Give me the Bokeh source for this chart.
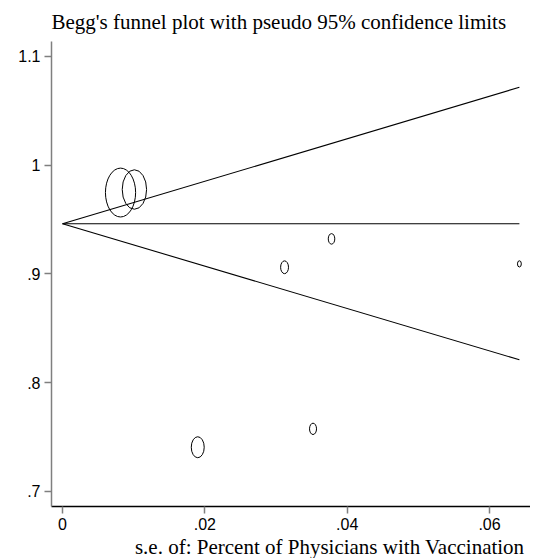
from bokeh.plotting import figure
from bokeh.models import Range1d, FixedTicker, Title
from bokeh.embed import file_html
from bokeh.resources import INLINE

# ---- data ----
se = [0.00815, 0.0101, 0.0378, 0.0312, 0.0642, 0.0352, 0.0190]
effect = [0.9747, 0.9775, 0.9321, 0.906, 0.9091, 0.7574, 0.7405]

pooled = 0.946
se_max = 0.0642
upper_end = 1.0715
lower_end = 0.8209

x_ticks = [0, 0.02, 0.04, 0.06]
x_tick_labels = ["0", ".02", ".04", ".06"]
y_ticks = [0.7, 0.8, 0.9, 1.0, 1.1]
y_tick_labels = [".7", ".8", ".9", "1", "1.1"]

title_text = "Begg's funnel plot with pseudo 95% confidence limits"
x_title = "s.e. of: Percent of Physicians with Vaccination"

# marker size encodes weight (diameter ~ 1/se), ellipse aspect as in the original
size_k = 0.246
marker_w = [size_k / s for s in se]
marker_h = [w * 1.62 for w in marker_w]

p = figure(frame_width=479, frame_height=465, output_backend="svg", toolbar_location=None,
           x_range=Range1d(-0.00155, 0.06576), y_range=Range1d(0.686, 1.1136),
           min_border_left=51, min_border_right=0, min_border_top=41, min_border_bottom=0,
           title=title_text)
p.background_fill_color = "white"
p.border_fill_color = "white"
p.outline_line_color = None
p.grid.visible = False

p.title.align = "left"
p.title.offset = 0
p.title.text_font = "Liberation Serif"
p.title.text_font_size = "21px"
p.title.text_font_style = "normal"
p.title.text_color = "black"
p.title.standoff = 15

# funnel lines
p.line([0, se_max], [pooled, upper_end], line_color="black", line_width=1.1)
p.line([0, se_max], [pooled, lower_end], line_color="black", line_width=1.1)
p.line([0, se_max], [pooled, pooled], line_color="black", line_width=1.1)

p.ellipse(x=se, y=effect, width=marker_w, height=marker_h,
          width_units="screen", height_units="screen",
          fill_color=None, line_color="black", line_width=1)

for ax, ticks, labels in ((p.xaxis[0], x_ticks, x_tick_labels), (p.yaxis[0], y_ticks, y_tick_labels)):
    ax.ticker = FixedTicker(ticks=ticks)
    ax.major_label_overrides = {t_: l for t_, l in zip(ticks, labels)}
    ax.minor_tick_line_color = None
    ax.major_tick_in = 0
    ax.major_tick_out = 7
    ax.major_tick_line_color = "#7f7f7f"
    ax.major_tick_line_width = 1.5
    ax.major_label_text_font = "Liberation Sans"
    ax.major_label_text_font_size = "16px"
    ax.major_label_text_color = "black"
    ax.major_label_standoff = 4

p.xaxis.axis_line_color = "black"
p.yaxis.axis_line_color = "#7f7f7f"
p.xaxis.axis_line_width = 1.5
p.yaxis.axis_line_width = 1.5

p.add_layout(Title(text=x_title, align="right", text_font="Liberation Serif",
                   text_font_size="21px", text_font_style="normal", text_color="black",
                   standoff=0, offset=6), "below")

open("out.html", "w").write(file_html(p, INLINE))
